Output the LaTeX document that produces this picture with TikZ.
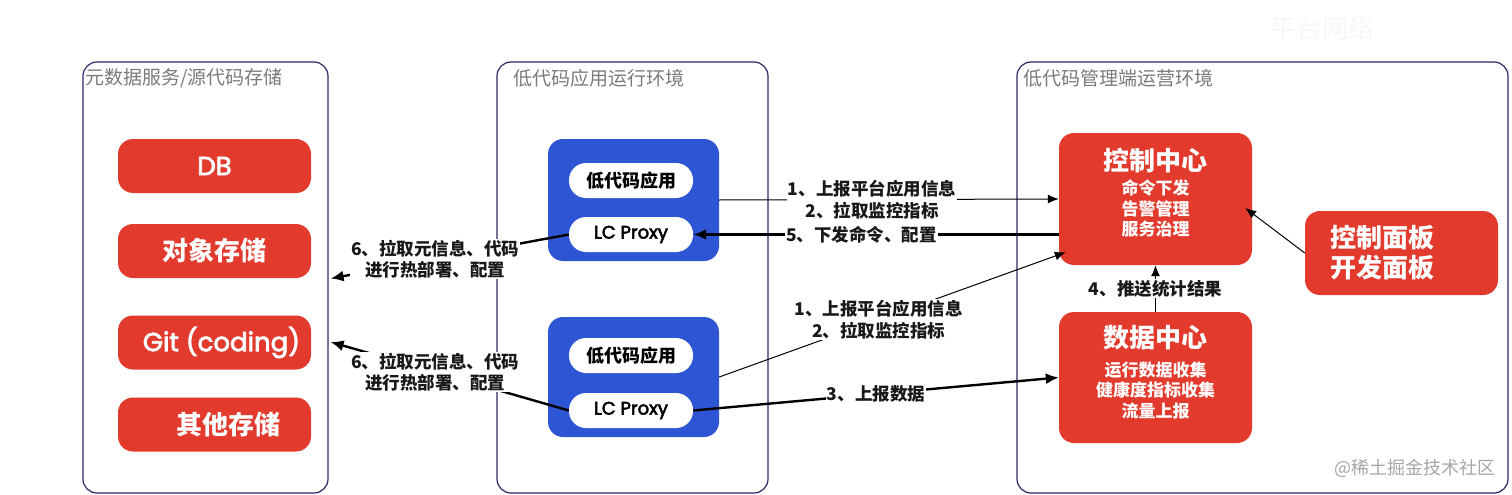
\documentclass[tikz,border=0pt]{standalone}
\usepackage{fontspec}
\setmainfont{Noto Sans CJK SC}
\newfontfamily\latinfont{Poppins}[FakeBold=3]
\usepackage{tikz}
\usetikzlibrary{arrows.meta, positioning, calc}

\definecolor{boxred}{HTML}{E23A2C}
\definecolor{boxblue}{HTML}{2E55D3}
\definecolor{envline}{HTML}{262A66}
\definecolor{envtext}{HTML}{7A7A7A}

\begin{document}
\begin{tikzpicture}[
  x=1pt, y=-1pt,
  env/.style={rectangle, rounded corners=14pt, draw=envline, line width=1.2pt},
  envtitle/.style={anchor=west, inner sep=0pt, text=envtext, font=\fontsize{19}{19}\selectfont},
  store/.style={rectangle, rounded corners=15pt, fill=boxred, text=white, minimum width=193pt, minimum height=54pt, inner sep=0pt, font=\fontsize{26}{26}\selectfont\bfseries},
  center/.style={rectangle, rounded corners=15pt, fill=boxred, minimum width=193pt},
  ctitle/.style={inner sep=0pt, text=white, font=\fontsize{26}{26}\selectfont\bfseries},
  clist/.style={inner sep=0pt, text=white, align=center, font=\fontsize{17}{20.5}\selectfont\bfseries},
  appbox/.style={rectangle, rounded corners=15pt, fill=boxblue, minimum width=171pt},
  pill/.style={rectangle, rounded corners=17pt, fill=white, minimum width=124pt, minimum height=35pt, inner sep=0pt, font=\fontsize{18}{18}\selectfont\bfseries},
  lab/.style={inner sep=1pt, fill=white, align=center, text=black!90, font=\fontsize{17.5}{21.5}\selectfont\bfseries},
  thinarr/.style={-{Latex[length=11pt,width=9pt]}, line width=1pt},
  thickarr/.style={-{Latex[length=13pt,width=11pt]}, line width=2.4pt},
]
  \useasboundingbox (0,0) rectangle (1512,495);

  \node[font=\fontsize{26}{26}\selectfont, text=black!3] (NetTitle) at (1322,28) {平台网络};

  \node[env, minimum width=245pt, minimum height=431pt] (MetaEnv) at (205.5,277.5) {};
  \node[env, minimum width=271pt, minimum height=431pt] (AppEnv) at (632.5,277.5) {};
  \node[env, minimum width=491pt, minimum height=431pt] (OpsEnv) at (1262.5,277.5) {};
  \node[envtitle] (MetaTitle) at (85,78) {元数据服务/源代码存储};
  \node[envtitle] (AppTitle) at (513,78) {低代码应用运行环境};
  \node[envtitle] (OpsTitle) at (1023,78) {低代码管理端运营环境};

  \node[store] (DB) at (214.5,166) {\latinfont\mdseries DB};
  \node[store] (ObjStore) at (214.5,251) {对象存储};
  \node[store] (Git) at (214.5,342.5) {\latinfont\mdseries\ \ Git (coding)};
  \node[store] (OtherStore) at (214.5,424.5) {\hspace{28pt}其他存储};

  \node[appbox, minimum height=122pt] (UpApp) at (633.5,200) {};
  \node[pill] (UpLowCode) at (631,180.5) {低代码应用};
  \node[pill] (UpProxy) at (631,234.5) {\latinfont\mdseries LC Proxy};
  \node[appbox, minimum height=120pt] (LowApp) at (633.5,377) {};
  \node[pill] (LowLowCode) at (631,355.5) {低代码应用};
  \node[pill] (LowProxy) at (631,410.5) {\latinfont\mdseries LC Proxy};

  \node[center, minimum height=132pt] (Ctrl) at (1155.5,199) {};
  \node[ctitle] (CtrlTitle) at (1155.5,161) {控制中心};
  \node[clist] (CtrlList) at (1155.5,208.5) {命令下发\\告警管理\\服务治理};
  \node[center, minimum height=131pt] (Data) at (1155.5,377.5) {};
  \node[ctitle] (DataTitle) at (1155.5,338) {数据中心};
  \node[clist] (DataList) at (1155.5,390.5) {运行数据收集\\健康度指标收集\\流量上报};
  \node[center, minimum height=84pt, text width=143pt, inner xsep=0pt, align=left, text=white, font=\fontsize{26}{30}\selectfont\bfseries] (Panel) at (1401.5,253) {控制面板\\开发面板};

  \node[text=black!35, font=\fontsize{18}{18}\selectfont] (Mark) at (1415,468) {@稀土掘金技术社区};

  \draw[thinarr] (UpApp.east) -- node[lab, pos=0.45] {1、上报平台应用信息\\2、拉取监控指标} (Ctrl.west);
  \draw[thickarr] (UpProxy.east -| Ctrl.west) -- node[lab, pos=0.54] {5、下发命令、配置} (UpProxy.east);
  \draw[thinarr] (LowApp.east) -- node[lab, pos=0.46] {1、上报平台应用信息\\2、拉取监控指标} ($(Ctrl.south west)+(7,-13)$);
  \draw[thickarr] (LowProxy.east) -- node[lab, pos=0.5] {3、上报数据} (Data.west);
  \draw[thinarr] (Data.north) -- node[lab] {4、推送统计结果} (Ctrl.south);
  \draw[thinarr] (Panel.west) -- ($(Ctrl.east)+(-7,9)$);
  \draw[thickarr] (UpProxy.west) -- node[lab, pos=0.56] {6、拉取元信息、代码\\进行热部署、配置} ($(MetaEnv.east)+(2,1)$);
  \draw[thickarr] (LowProxy.west) -- node[lab, pos=0.56] {6、拉取元信息、代码\\进行热部署、配置} ($(MetaEnv.east)+(2,64.5)$);
\end{tikzpicture}
\end{document}
